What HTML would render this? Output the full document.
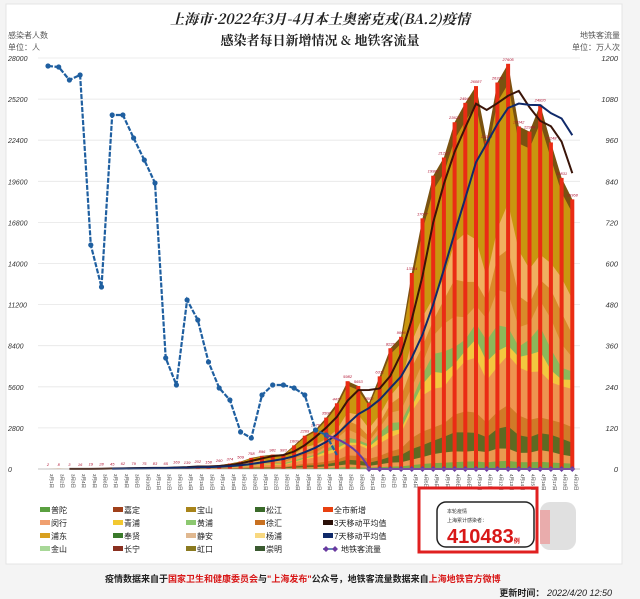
<!DOCTYPE html><html><head><meta charset="utf-8"><style>
body{margin:0;background:#f4f4f4;}
svg{display:block;font-family:"Liberation Sans","Noto Sans CJK SC",sans-serif;}
</style></head><body>
<svg id="s" width="640" height="599" viewBox="0 0 640 599">
<rect x="6" y="4" width="616" height="560" fill="#fff" stroke="#e4e4e4"/>
<text x="320" y="24" text-anchor="middle" font-size="14" font-weight="bold" fill="#222" font-style="italic" font-family="Noto Serif CJK SC,serif">上海市·2022年3月-4月本土奥密克戎(BA.2)疫情</text>
<text x="320" y="45" text-anchor="middle" font-size="13" font-weight="bold" fill="#222" font-family="Noto Serif CJK SC,serif">感染者每日新增情况 &amp; 地铁客流量</text>
<text x="8" y="38" font-size="8" fill="#555">感染者人数</text>
<text x="8" y="50" font-size="8" fill="#555">单位：人</text>
<text x="620" y="38" font-size="8" fill="#555" text-anchor="end">地铁客流量</text>
<text x="620" y="50" font-size="8" fill="#555" text-anchor="end">单位：万人次</text>
<g id="g"></g>
<rect x="419" y="488" width="118" height="64" fill="none" stroke="#e02020" stroke-width="3"/>
<rect x="437" y="502" width="97" height="45" rx="9" fill="#fff" stroke="#222" stroke-width="1.5"/>
<text x="447" y="513" font-size="5" fill="#333">本轮疫情</text>
<text x="447" y="522" font-size="5" fill="#333">上海累计感染者：</text>
<text x="447" y="543" font-size="20" font-weight="bold" fill="#d81818" font-family="Liberation Sans Narrow,Liberation Sans,sans-serif">410483<tspan font-size="6">例</tspan></text>
<rect x="540" y="502" width="36" height="48" rx="10" fill="#ccc" opacity="0.6"/>
<rect x="540" y="510" width="10" height="34" fill="#e88" opacity="0.6"/>
<text x="105" y="582" font-size="9" font-weight="bold" fill="#222">疫情数据来自于<tspan fill="#d81818">国家卫生和健康委员会</tspan>与<tspan fill="#d81818">"上海发布"</tspan>公众号，地铁客流量数据来自<tspan fill="#d81818">上海地铁官方微博</tspan></text>
<text x="612" y="596" font-size="9" fill="#222" text-anchor="end" font-style="italic"><tspan font-weight="bold" font-style="normal">更新时间：</tspan> 2022/4/20 12:50</text>
</svg>
<script>
var c=[2,8,3,16,19,28,45,62,79,75,83,65,169,139,202,158,260,374,509,758,896,981,983,1609,2269,2676,3500,4477,5982,5653,4502,6311,8226,9006,13354,17077,19982,21222,23624,24944,26087,22348,26330,27605,23342,22984,24820,22248,19831,18368];
var my=[66,67,80,75,245,287,115,115,138,160,183,358,385,300,320,362,388,400,432,438,395,385,385,388,395,430,435,455];
var X=i=>48+i*10.7,Y=v=>469-v*411/28000;
var h='';
for(var k=0;k<=10;k++){var y=469-k*41.1;h+=`<line x1="38" x2="580" y1="${y}" y2="${y}" stroke="#e6e6e6" stroke-width="0.8"/><text x="8" y="${y+3}" font-size="7" font-style="italic" fill="#333">${k*2800}</text><text x="618" y="${y+3}" font-size="7.5" font-style="italic" fill="#333" text-anchor="end">${k*120}</text>`;}
var L=[[1,'#7a5210'],[0.95,'#c9960f'],[0.62,'#f0b060'],[0.52,'#d98a2a'],[0.44,'#e8a050'],[0.37,'#8cb85a'],[0.32,'#f2c840'],[0.28,'#ee9450'],[0.15,'#d07a28'],[0.1,'#5e6a22'],[0.05,'#e89a50'],[0.02,'#7aaa48']];
L.forEach((l,j)=>{var p=X(0)+',469 ';c.forEach((v,i)=>{var f=l[0]*(1+(j>1&&j<11?0.06*Math.sin(i*1.3+j):0));p+=X(i)+','+Y(v*Math.min(f,1))+' ';});p+=X(49)+',469';h+=`<polygon points="${p}" fill="${l[1]}"/>`;});
c.forEach((v,i)=>{h+=`<rect x="${X(i)-2}" y="${Y(v)}" width="4" height="${469-Y(v)}" fill="#ea2c14"/>`;
h+=`<text x="${X(i)}" y="${Y(v)-3}" font-size="4" fill="#b01030" text-anchor="middle" font-style="italic">${v}</text>`;
var d=(i<31?'3月'+(i+1)+'日':'4月'+(i-30)+'日');h+=`<text transform="translate(${X(i)+2},474) rotate(90)" font-size="4.5" fill="#333">${d}</text>`;});
function ma(n){var p='';c.forEach((v,i)=>{if(i<n-1)return;var s=0;for(var j=0;j<n;j++)s+=c[i-j];p+=X(i)+','+Y(s/n)+' ';});return p;}
h+=`<polyline points="${ma(3)}" fill="none" stroke="#3a1408" stroke-width="2"/><polyline points="${ma(7)}" fill="none" stroke="#102a6a" stroke-width="2"/>`;
var p='';my.forEach((y,i)=>{p+=X(i)+','+y+' ';});
h+=`<polyline points="${p}" fill="none" stroke="#1f5fa0" stroke-width="2.2" stroke-dasharray="5 1.5"/>`;
my.forEach((y,i)=>{if(i<27)h+=`<circle cx="${X(i)}" cy="${y}" r="2.6" fill="#1f5fa0"/>`;});
h+=`<path d="M${X(26)},435 Q${X(29)},445 ${X(30)},469 L${X(49)},469" fill="none" stroke="#6a3aa0" stroke-width="2"/>`;
for(var i=30;i<50;i++)h+=`<path d="M${X(i)-3},469 L${X(i)},466 L${X(i)+3},469 L${X(i)},472Z" fill="#6a3aa0"/>`;
h+=`<line x1="38" x2="580" y1="469" y2="469" stroke="#999" stroke-width="0.6"/>`;
var lg=[['普陀','#5aa040'],['嘉定','#a0401a'],['宝山','#a8841a'],['松江','#3a6a2a'],['全市新增','#e84010'],
['闵行','#f0a070'],['青浦','#f2c830'],['黄浦','#8cc870'],['徐汇','#c87020'],['3天移动平均值','#2a1008'],
['浦东','#d8a020'],['奉贤','#3a7a2a'],['静安','#e0b890'],['杨浦','#f8d880'],['7天移动平均值','#102a6a'],
['金山','#a8d898'],['长宁','#8a3020'],['虹口','#8a7a20'],['崇明','#3a5a30'],['地铁客流量','#6a3aa0']];
lg.forEach((e,i)=>{var y=513+Math.floor(i/5)*13,x=[40,113,186,255,323][i%5];
if(i==19){h+=`<line x1="${x}" x2="${x+14}" y1="${y-3}" y2="${y-3}" stroke="#3060a0" stroke-width="1.5"/><path d="M${x},${y-3}l3,-3l3,3l-3,3z M${x+9},${y-3}l3,-3l3,3l-3,3z" fill="#6a3aa0"/><text x="${x+18}" y="${y}" font-size="8" fill="#222">${e[0]}</text>`;}
else h+=`<rect x="${x}" y="${y-6}" width="10" height="5" fill="${e[1]}"/><text x="${x+11}" y="${y}" font-size="8" fill="#222">${e[0]}</text>`;});
document.getElementById('g').innerHTML=h;
</script>
</body></html>
